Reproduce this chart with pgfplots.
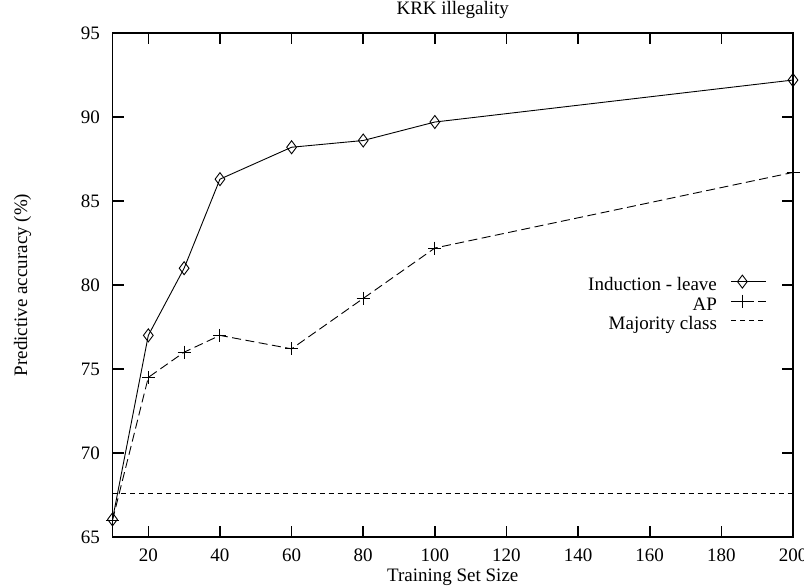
\documentclass[border=0pt]{standalone}
\usepackage{pgfplots}
\pgfplotsset{compat=1.18}
\usepackage{fontspec}
\setmainfont{Liberation Serif}

\begin{document}
\begin{tikzpicture}[font=\fontsize{19}{20}\selectfont]
\useasboundingbox (-112.5pt,-49pt) rectangle (691.5pt,537pt);
\begin{axis}[
  at={(0,0)}, anchor=south west,
  scale only axis, width=680.5pt, height=504pt,
  xmin=10, xmax=200, ymin=65, ymax=95,
  xtick={20,40,...,200}, ytick={65,70,...,95},
  axis line style={draw=black, line width=1.8pt},
  tick align=inside, major tick length=11pt,
  tick style={draw=black, line width=1.6pt},
  /pgf/number format/assume math mode=true,
  yticklabel style={anchor=east, inner sep=0pt, xshift=-12.5pt},
  xticklabel style={anchor=base, inner sep=0pt, yshift=-24.5pt},
  title={KRK illegality},
  title style={at={(axis description cs:0.5,1)}, anchor=base, inner sep=0pt, yshift=12.3pt},
  xlabel={Training Set Size},
  xlabel style={at={(axis description cs:0.5,0)}, anchor=base, inner sep=0pt, yshift=-44.7pt},
  ylabel={Predictive accuracy (\%)},
  ylabel style={at={(axis description cs:-0.1256,0.5)}, anchor=base, inner sep=0pt},
  clip=false,
  legend plot pos=right,
  legend cell align=right,
  legend style={draw=none, fill=none, at={(axis description cs:0.9618,0.5205)},
    anchor=north east, inner sep=0pt, row sep=0pt, column sep=12pt},
  legend image code/.code={
    \draw[mark repeat=2, mark phase=2, #1] plot coordinates {(0pt,0.3em) (11pt,0.3em) (35pt,0.3em)};
  },
]
% frame and inward ticks as filled bars
\fill[black] (rel axis cs:0,0) ++(-0.9pt,-0.9pt) rectangle ([xshift=0.9pt,yshift=0.9pt]rel axis cs:1,0);
\fill[black] (rel axis cs:0,1) ++(-0.9pt,-0.9pt) rectangle ([xshift=0.9pt,yshift=0.9pt]rel axis cs:1,1);
\fill[black] (rel axis cs:0,0) ++(-0.9pt,-0.9pt) rectangle ([xshift=0.9pt,yshift=0.9pt]rel axis cs:0,1);
\fill[black] (rel axis cs:1,0) ++(-0.9pt,-0.9pt) rectangle ([xshift=0.9pt,yshift=0.9pt]rel axis cs:1,1);
\pgfplotsinvokeforeach{20,40,...,180}{
  \fill[black] (axis cs:#1,65) ++(-0.8pt,0pt) rectangle ++(1.6pt,11pt);
  \fill[black] (axis cs:#1,95) ++(-0.8pt,0pt) rectangle ++(1.6pt,-11pt);
}
\pgfplotsinvokeforeach{70,75,...,90}{
  \fill[black] (axis cs:10,#1) ++(0pt,-0.8pt) rectangle ++(11pt,1.6pt);
  \fill[black] (axis cs:200,#1) ++(0pt,-0.8pt) rectangle ++(-11pt,1.6pt);
}
\addplot[black, line width=0.9pt, mark=diamond, mark size=6.5pt, mark options={solid, fill=white}]
  coordinates {(10,66.05) (20,77) (30,81) (40,86.3) (60,88.2) (80,88.6) (100,89.7) (200,92.2)};
\addlegendentry{\strut Induction - leave}
\addplot[black, line width=0.9pt, dash pattern=on 9pt off 4.5pt, mark=+, mark size=6.5pt, mark options={solid}]
  coordinates {(10,66) (20,74.5) (30,76) (40,77) (60,76.2) (80,79.2) (100,82.2) (200,86.7)};
\addlegendentry{\strut AP}
\addplot[black, line width=0.9pt, dash pattern=on 5pt off 4pt]
  coordinates {(10,67.6) (200,67.6)};
\addlegendentry{\strut Majority class}
\end{axis}
\end{tikzpicture}
\end{document}
